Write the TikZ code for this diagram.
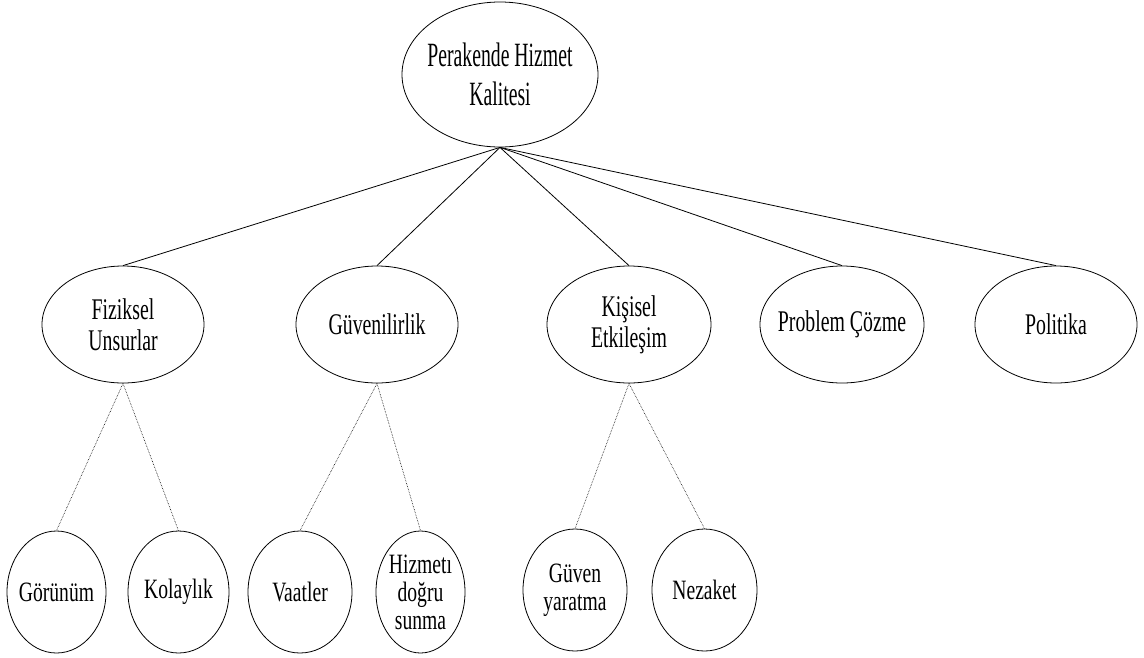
\documentclass[tikz,border=0pt]{standalone}
\usepackage{fontspec}
\setmainfont[FakeStretch=0.66]{Liberation Serif}
\newfontfamily\lowfont[FakeStretch=0.7]{Liberation Serif}
\newfontfamily\topfont[FakeStretch=0.58]{Liberation Serif}
\usetikzlibrary{shapes.geometric}
\tikzset{
  ell/.style={ellipse, draw, line width=0.8pt, inner sep=0pt, inner xsep=-30pt, inner ysep=-14pt, align=center},
  topell/.style={ell, minimum width=196pt, minimum height=145pt, font=\topfont\fontsize{34}{39}\selectfont},
  midell/.style={ell, minimum width=162pt, minimum height=117pt, font=\fontsize{30}{31}\selectfont},
  lowell/.style={ell, minimum height=122pt, font=\lowfont\fontsize{28}{28}\selectfont},
  solidlink/.style={line width=0.8pt},
  dotlink/.style={densely dotted, line width=0.6pt}
}
\begin{document}
\begin{tikzpicture}[x=1pt,y=-1pt]
\useasboundingbox (0,0) rectangle (1144,657);
\node[topell] (top) at (500,74.5) {Perakende Hizmet\\Kalitesi};
\node[midell] (fiz) at (123,324.5) {Fiziksel\\Unsurlar};
\node[midell] (guv) at (377,324.5) {Güvenilirlik};
\node[midell, minimum width=164pt] (kis) at (629,324.5) {Kişisel\\Etkileşim};
\node[midell, minimum width=164pt] (pro) at (842,324.5) {Problem Çözme};
\node[midell] (pol) at (1056,324.5) {Politika};
\node[lowell, minimum width=99pt] (gor) at (56.5,592) {Görünüm};
\node[lowell, minimum width=101pt] (kol) at (178.5,592) {Kolaylık};
\node[lowell, minimum width=104pt] (vaa) at (300,592) {Vaatler};
\node[lowell, minimum width=89pt] (hiz) at (420.5,592) {Hizmetı\\doğru\\sunma};
\node[lowell, minimum width=104pt] (gy) at (575,590) {Güven\\yaratma};
\node[lowell, minimum width=105pt] (nez) at (704.5,590) {Nezaket};
\foreach \c in {fiz,guv,kis,pro,pol} \draw[solidlink] (top.south) -- (\c.north);
\draw[dotlink] (fiz.south) -- (gor.north);
\draw[dotlink] (fiz.south) -- (kol.north);
\draw[dotlink] (guv.south) -- (vaa.north);
\draw[dotlink] (guv.south) -- (hiz.north);
\draw[dotlink] (kis.south) -- (gy.north);
\draw[dotlink] (kis.south) -- (nez.north);
\end{tikzpicture}
\end{document}
